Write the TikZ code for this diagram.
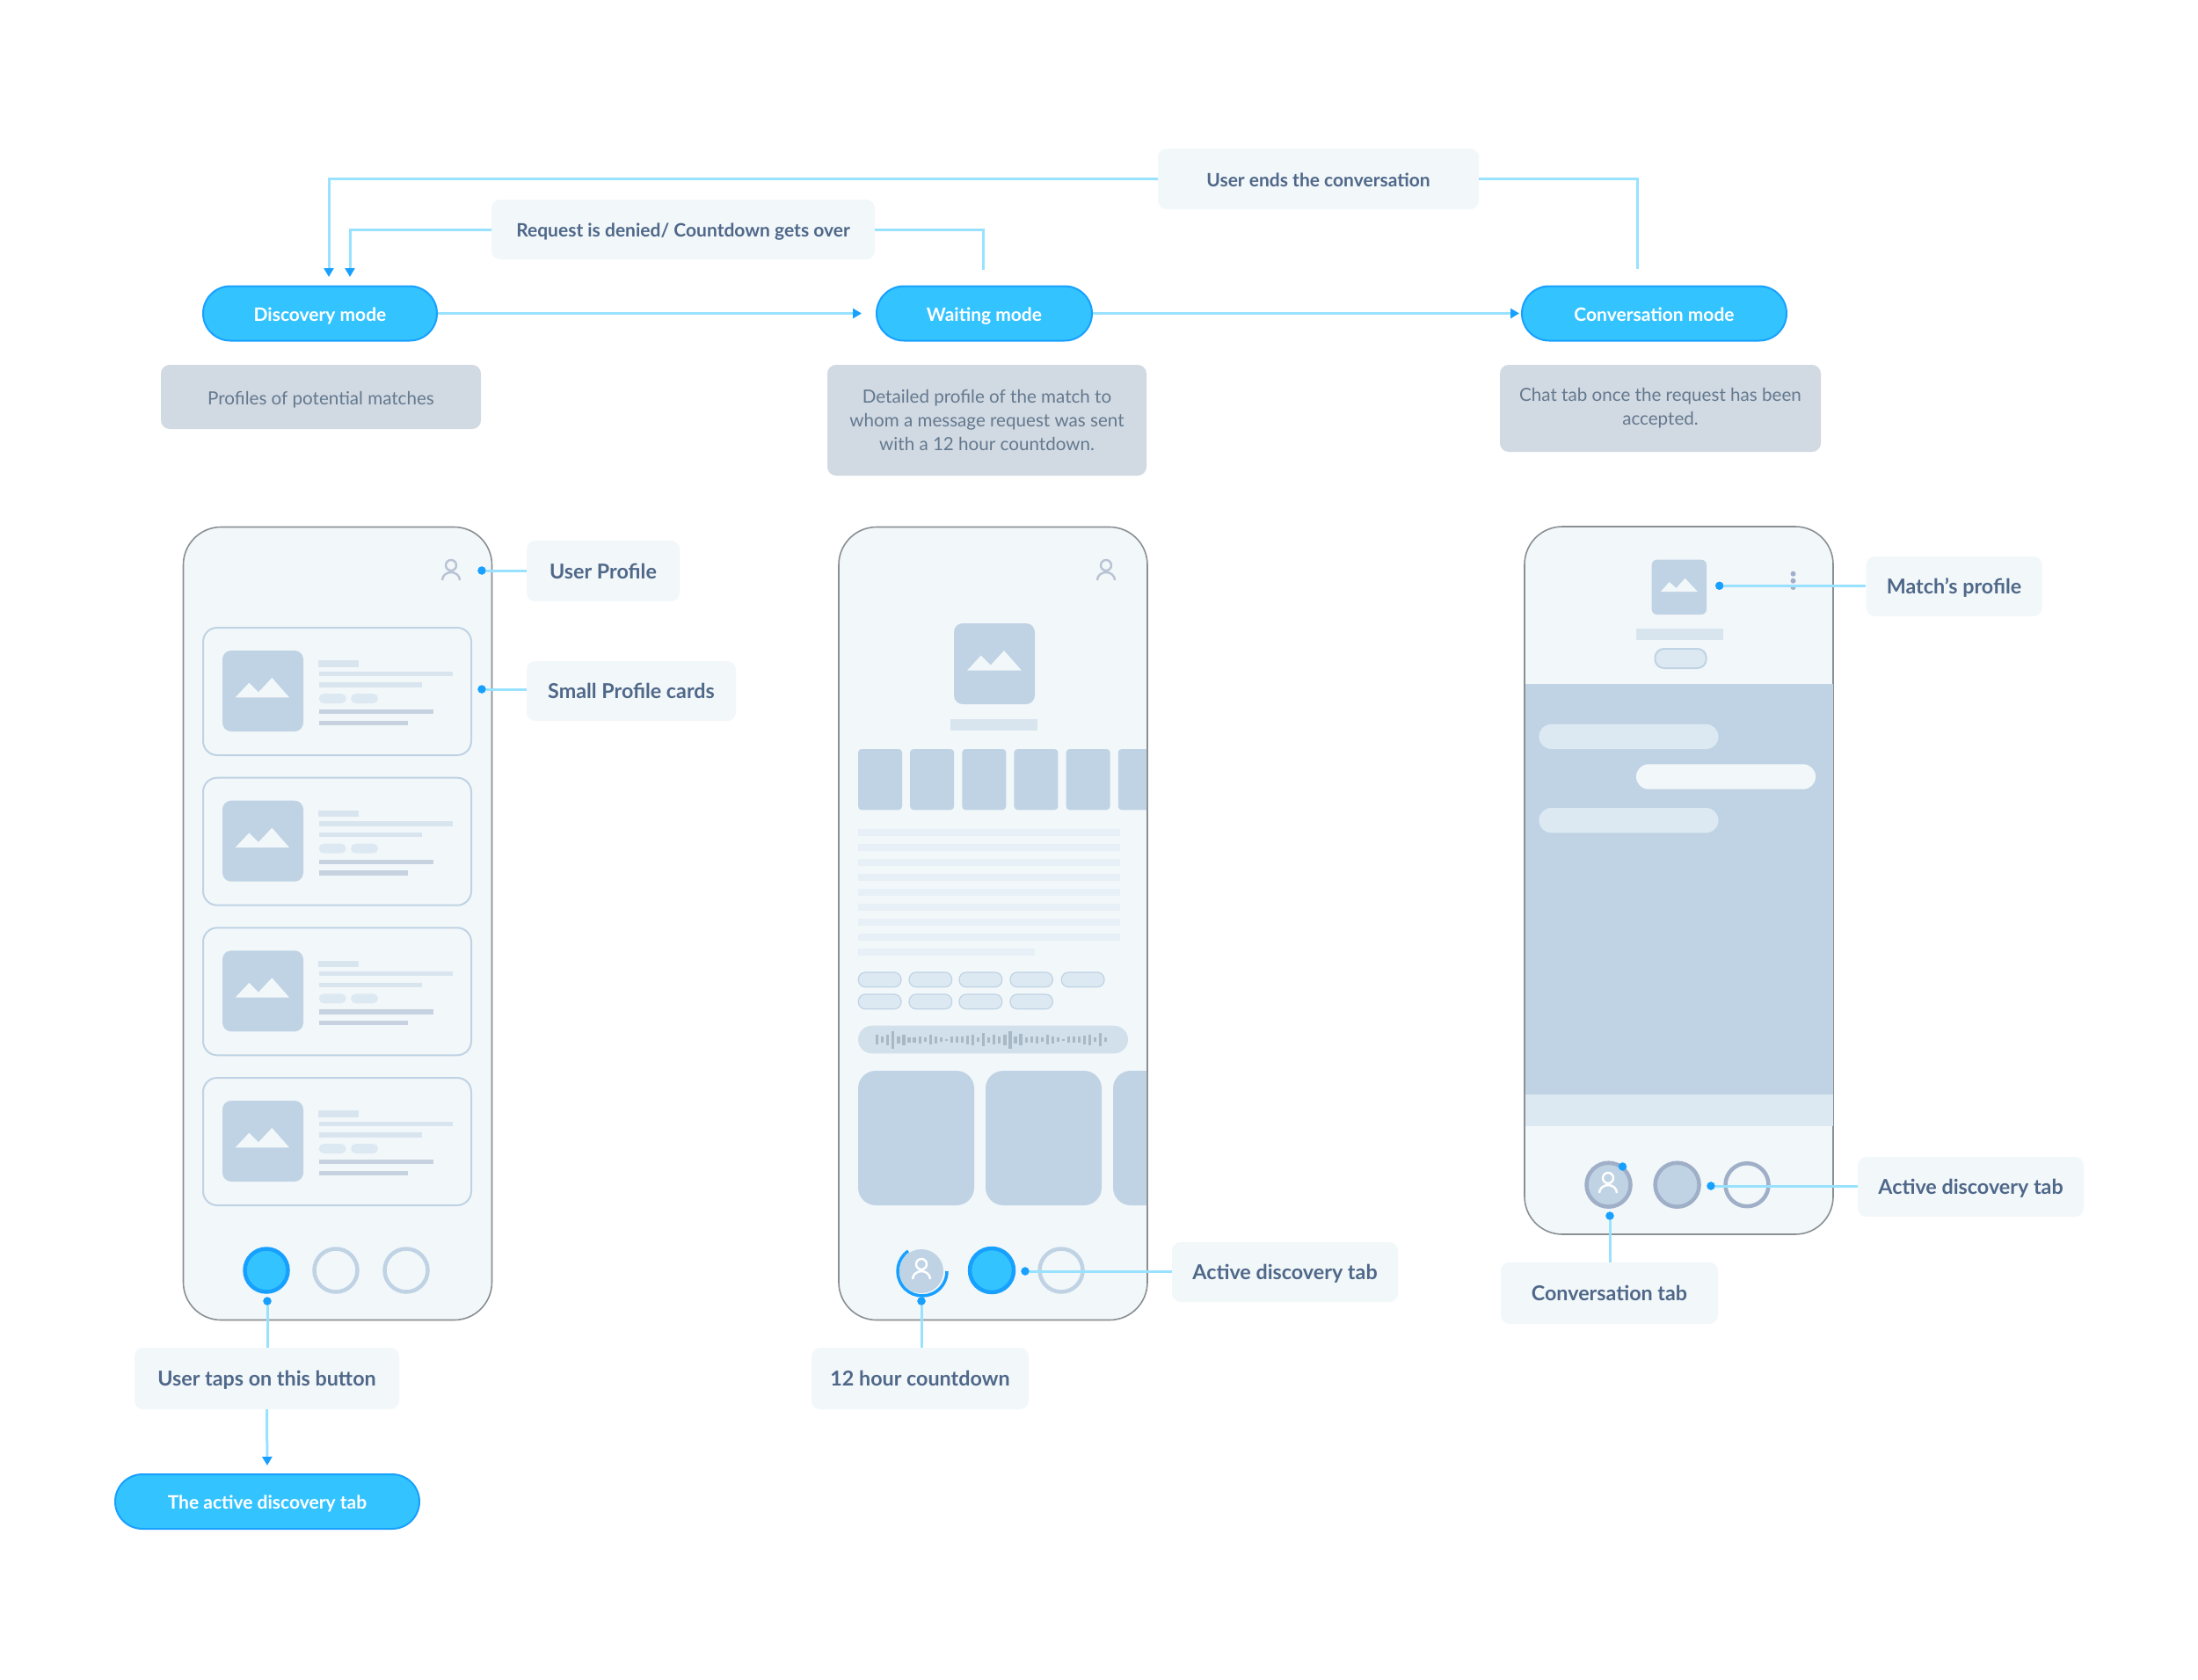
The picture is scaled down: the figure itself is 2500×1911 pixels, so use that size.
\documentclass[tikz,border=0pt]{standalone}
\usepackage{fontspec}
\setmainfont{Lato}
\usetikzlibrary{arrows.meta,positioning,calc}
\definecolor{panel}{HTML}{F2F7FA}
\definecolor{greybox}{HTML}{D1D9E2}
\definecolor{ink}{HTML}{4F6889}
\definecolor{inkdim}{HTML}{64798F}
\definecolor{wire}{HTML}{99E2FF}
\definecolor{dotblue}{HTML}{18A0FF}
\definecolor{pillfill}{HTML}{33C3FF}
\definecolor{shell}{HTML}{8A8F94}
\definecolor{thumb}{HTML}{BFD3E4}
\definecolor{pale}{HTML}{DDE9F2}
\definecolor{barlight}{HTML}{D9E5EE}
\definecolor{barfaint}{HTML}{E7F0F6}
\definecolor{bardark}{HTML}{C6D2E0}
\definecolor{wavebar}{HTML}{D2E0EB}
\definecolor{wavetick}{HTML}{A8B9C5}
\definecolor{personline}{HTML}{B8C3D4}
\definecolor{ringdark}{HTML}{A0AFC8}

\begin{document}
\begin{tikzpicture}[
  x=1pt,y=-1pt,
  phone/.style={draw=shell, line width=1.6pt, rounded corners=43pt, fill=panel, inner sep=0pt},
  pill/.style={draw=dotblue, line width=2pt, rounded corners=31pt, fill=pillfill, text=white, inner sep=0pt, text height=21pt, text depth=4pt, font=\fontsize{21}{26}\selectfont\bfseries},
  note/.style={fill=panel, rounded corners=10pt, text=ink, inner sep=0pt, align=center, text height=21pt, text depth=4pt, font=\fontsize{21}{26}\selectfont\bfseries},
  callout/.style={note, font=\fontsize{23.3}{28}\selectfont\bfseries},
  caption/.style={fill=greybox, rounded corners=10pt, text=inkdim, inner sep=0pt, align=center, font=\fontsize{20.6}{26.7}\selectfont, execute at begin node={\rule{0pt}{22pt}}},
  wire/.style={draw=wire, line width=3pt},
  tip/.style={wire, -{Triangle[length=10pt,width=11pt,color=dotblue]}},
  bluedot/.style={circle, fill=dotblue, draw=dotblue, inner sep=0pt, minimum size=9pt},
  tabon/.style={circle, draw=dotblue, line width=4.5pt, fill=pillfill, inner sep=0pt, minimum size=49pt},
  taboff/.style={circle, draw=thumb, line width=4.5pt, inner sep=0pt, minimum size=49pt},
  tabgrey/.style={circle, draw=ringdark, line width=4.5pt, fill=thumb, inner sep=0pt, minimum size=50pt},
  thumbbox/.style={fill=thumb, rounded corners=10pt},
  tag/.style={fill=pale, draw=thumb, line width=1.2pt, rounded corners=8pt},
  person/.pic={
    \draw[line width=2.4pt, pic actions] (0,0) circle[radius=6pt];
    \draw[line width=2.4pt, pic actions] (-10,17) arc[start angle=180, end angle=0, x radius=10pt, y radius=9pt];
  },
]
\useasboundingbox (0,0) rectangle (2500,1911);
\fill[white] (0,0) rectangle (2500,1911);

% modes along the top
\node[pill, minimum width=266pt, minimum height=62pt] (discovery) at (364,356.5) {Discovery mode};
\node[pill, minimum width=245pt, minimum height=62pt] (waiting) at (1119.5,356.5) {Waiting mode};
\node[pill, minimum width=301pt, minimum height=62pt] (conversation) at (1881.5,356.5) {Conversation mode};
\node[note, minimum width=365pt, minimum height=69pt] (ends) at (1499.5,203.5) {User ends the conversation};
\node[note, minimum width=436pt, minimum height=68pt] (denied) at (777,261) {Request is denied/ Countdown gets over};
\node[caption, minimum width=364pt, minimum height=73pt] (capdiscovery) at (365,451.5) {Profiles of potential matches};
\node[caption, minimum width=363pt, minimum height=126pt] (capwaiting) at (1122.5,478) {Detailed profile of the match to\\whom a message request was sent\\with a 12 hour countdown.};
\node[caption, minimum width=365pt, minimum height=99pt] (capconversation) at (1888.5,464.5) {Chat tab once the request has been\\accepted.};
\coordinate (inouter) at (374,315);
\coordinate (ininner) at (398,315);
\coordinate (outwaiting) at (1118,307);
\coordinate (outconversation) at (1862,306);
\draw[tip] (ends.west) -| (inouter);
\draw[wire] (ends.east) -| (outconversation);
\draw[tip] (denied.west) -| (ininner);
\draw[wire] (denied.east) -| (outwaiting);
\draw[tip, shorten >=16pt] (discovery) -- (waiting);
\draw[tip, shorten >=2pt] (waiting) -- (conversation);

% left phone
\node[phone, minimum width=351pt, minimum height=902pt] (phoneleft) at (384,1050.5) {};
\pic[draw=personline] at (513,643) {person};
\foreach \cy in {0,170.7,341.3,512} {
  \begin{scope}[yshift=-\cy pt]
    \draw[draw=thumb, line width=2pt, rounded corners=16pt] (231,714) rectangle (536,859);
    \fill[thumbbox] (253,740) rectangle (345,832);
    \fill[panel] (267.7,793.3) -- (283.3,776.7) -- (294,787.3) -- (309.3,771) -- (329,793.3) -- cycle;
    \fill[barlight] (362.3,751.3) rectangle (408,758.7);
    \fill[barlight] (362.7,763.7) rectangle (515,769);
    \fill[barlight] (362.7,776.3) rectangle (480,781.7);
    \fill[pale, rounded corners=5.5pt] (362.7,789) rectangle (393.7,800);
    \fill[pale, rounded corners=5.5pt] (399,789) rectangle (430,800);
    \fill[bardark] (362.7,807) rectangle (493,812.3);
    \fill[bardark] (362.7,819.7) rectangle (464,825);
  \end{scope}
}
\node[tabon] (tabdiscovery) at (303,1445) {};
\node[taboff] (tabsecond) at (382,1445) {};
\node[taboff] (tabthird) at (462,1445) {};
\node[bluedot] (dotprofile) at (548,649) {};
\node[bluedot] (dotcards) at (548,784) {};
\node[bluedot] (dottap) at (304,1480) {};
\node[callout, minimum width=174pt, minimum height=69pt] (userprofile) at (686,649.5) {User Profile};
\node[callout, minimum width=238pt, minimum height=68pt] (smallcards) at (718,786) {Small Profile cards};
\node[callout, minimum width=301pt, minimum height=70pt] (taps) at (303.5,1568) {User taps on this button};
\node[pill, minimum width=346pt, minimum height=62pt] (activepill) at (304,1708) {The active discovery tab};
\draw[wire] (dotprofile) -- (userprofile.west |- dotprofile);
\draw[wire] (dotcards) -- (smallcards.west |- dotcards);
\draw[wire] (dottap) -- (dottap |- taps.north);
\draw[tip, shorten >=9pt] (taps.south) -- (activepill.north);

% middle phone
\node[phone, minimum width=351pt, minimum height=902pt] (phonemiddle) at (1129.5,1050.5) {};
\pic[draw=personline] at (1258,643) {person};
\fill[thumbbox] (1085,709) rectangle (1177,801);
\fill[panel] (1100,762.7) -- (1115.7,745.7) -- (1126.7,756.7) -- (1142,740) -- (1162,762.7) -- cycle;
\fill[barlight] (1081,817.7) rectangle (1180.3,831);
\begin{scope}
  \clip (976,840) rectangle (1304,1380);
  \foreach \i in {0,...,5}
    \fill[thumb, rounded corners=4pt] ({976+59.15*\i},852) rectangle ({1026+59.15*\i},921.3);
  \foreach \x in {976,1121,1266}
    \fill[thumb, rounded corners=20pt] (\x,1218) rectangle ({\x+132},1371);
\end{scope}
\foreach \i in {0,...,7}
  \fill[barfaint] (976,{943+17*\i}) rectangle (1274,{950.5+17*\i});
\fill[barfaint] (976,1079) rectangle (1176.7,1086.7);
\foreach \x/\w in {976.3/1025,1034/1082.7,1091/1139.7,1149/1197.3,1207.3/1256}
  \draw[tag] (\x,1106) rectangle (\w,1122.7);
\foreach \x/\w in {976.3/1025,1034/1082.7,1091/1139.7,1149/1197.3}
  \draw[tag] (\x,1131) rectangle (\w,1147.7);
\fill[wavebar, rounded corners=15.8pt] (976,1166.7) rectangle (1283,1198.3);
\foreach \h [count=\i from 0] in {11,7,12,20,8,12,6,6,8,5,11,8,5,2,7,7,7,10,12,5,15,6,11,8,12,20,8,13,6,7,8,5,11,8,5,2,7,7,7,10,12,5,15,5}
  \draw[wavetick, line width=3.2pt] ({997.7+6.05*\i},{1182.5-\h/2}) -- ({997.7+6.05*\i},{1182.5+\h/2});
\node[circle, fill=thumb, inner sep=0pt, minimum size=50pt] (tabcountdown) at (1048,1446) {};
\draw[dotblue, line width=3.5pt] (1049,1446) ++(125:28pt) arc[start angle=125, end angle=360, radius=28pt];
\pic[draw=white] at (1048,1438) {person};
\node[tabon, minimum size=50pt] (tabwaiting) at (1128,1445) {};
\node[taboff] (tabmiddle) at (1207,1445) {};
\node[bluedot] (dotcountdown) at (1048,1480) {};
\node[bluedot] (dotactive) at (1166,1446) {};
\node[callout, minimum width=257pt, minimum height=68pt] (activemiddle) at (1461.5,1447) {Active discovery tab};
\node[callout, minimum width=247pt, minimum height=70pt] (countdown) at (1046.5,1568) {12 hour countdown};
\draw[wire] (dotactive) -- (activemiddle.west |- dotactive);
\draw[wire] (dotcountdown) -- (dotcountdown |- countdown.north);

% right phone
\node[phone, minimum width=351pt, minimum height=805pt] (phoneright) at (1909.5,1001.5) {};
\fill[thumb] (1735,777.7) rectangle (2084.5,1245);
\fill[pale] (1735,1245) rectangle (2084.5,1281);
\fill[thumb, rounded corners=6pt] (1878.6,636.7) rectangle (1941,699);
\fill[panel] (1888.8,673) -- (1898.7,662) -- (1906.6,669) -- (1916.5,657.7) -- (1930.8,673) -- cycle;
\fill[barlight] (1861,715) rectangle (1960,728);
\draw[fill=pale, draw=thumb, line width=2pt, rounded corners=10pt] (1882.5,738) rectangle (1940.6,760);
\foreach \y in {652.7,660.7,668}
  \fill[ringdark] (2039.5,\y) circle[radius=3pt];
\fill[pale, rounded corners=14pt] (1750.4,823.7) rectangle (1954.5,852);
\fill[panel, rounded corners=14pt] (1861,869.3) rectangle (2065,897.7);
\fill[pale, rounded corners=14pt] (1750.4,919) rectangle (1954.5,947.3);
\node[tabgrey] (tabchat) at (1829.5,1347.7) {};
\pic[draw=white] at (1829,1340) {person};
\node[bluedot] (dotunread) at (1845.5,1327) {};
\node[tabgrey] (tabdim) at (1907.6,1347.7) {};
\node[circle, draw=ringdark, line width=4.5pt, inner sep=0pt, minimum size=49pt] (tablast) at (1987,1347.7) {};
\node[bluedot] (dotmatch) at (1955.7,666.3) {};
\node[bluedot] (dotright) at (1946,1349) {};
\node[bluedot] (dotchat) at (1831,1383) {};
\node[callout, minimum width=200pt, minimum height=68pt] (matchprofile) at (2222.5,667) {Match’s profile};
\node[callout, minimum width=257pt, minimum height=68pt] (activeright) at (2241.5,1350) {Active discovery tab};
\node[callout, minimum width=247pt, minimum height=70pt] (chattab) at (1830.5,1471) {Conversation tab};
\draw[wire] (dotmatch) -- (matchprofile.west |- dotmatch);
\draw[wire] (dotright) -- (activeright.west |- dotright);
\draw[wire] (dotchat) -- (dotchat |- chattab.north);
\end{tikzpicture}
\end{document}
